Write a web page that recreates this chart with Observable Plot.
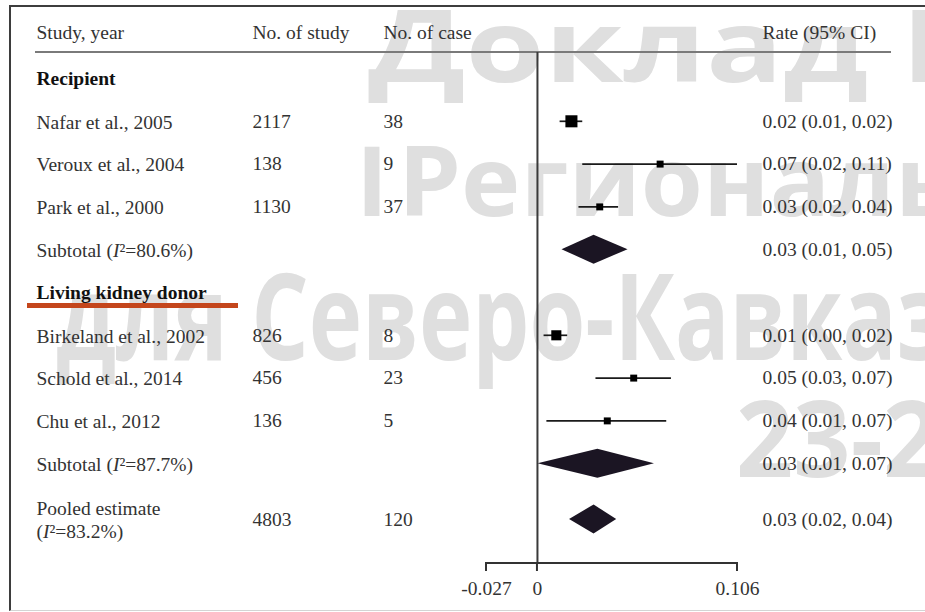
<!DOCTYPE html>
<html>
<head>
<meta charset="utf-8">
<script src="https://cdn.jsdelivr.net/npm/d3@7"></script>
<script src="https://cdn.jsdelivr.net/npm/@observablehq/plot@0.6"></script>
<style>
html, body { margin: 0; padding: 0; background: #fff; }
#wrap { position: relative; width: 925px; height: 612px; overflow: hidden; background: #fff; }
#wm, #chart { position: absolute; left: 0; top: 0; }
#border { position: absolute; left: 9px; top: 5px; width: 916px; height: 606px; box-sizing: border-box;
  border-left: 2px solid #3d3d3d; border-top: 2px solid #3d3d3d; border-bottom: 1px solid #d4d4d4; pointer-events: none; }
</style>
</head>
<body>
<div id="wrap">
  <svg id="wm" width="925" height="612"></svg>
  <div id="chart"></div>
  <div id="border"></div>
</div>
<script>
// ---------------- data ----------------
const headers = ["Study, year", "No. of study", "No. of case", "Rate (95% CI)"];
const rowLabels = [
  "Recipient",
  "Nafar et al., 2005",
  "Veroux et al., 2004",
  "Park et al., 2000",
  "Subtotal (I²=80.6%)",
  "Living kidney donor",
  "Birkeland et al., 2002",
  "Schold et al., 2014",
  "Chu et al., 2012",
  "Subtotal (I²=87.7%)",
  "Pooled estimate\n(I²=83.2%)"
];
const rowKinds = ["group", "study", "study", "study", "subtotal", "group", "study", "study", "study", "subtotal", "pooled"];
const nStudy = [null, 2117, 138, 1130, null, null, 826, 456, 136, null, 4803];
const nCase  = [null, 38, 9, 37, null, null, 8, 23, 5, null, 120];
const rateEst = [null, 0.018, 0.065, 0.033, 0.030, null, 0.010, 0.051, 0.037, 0.032, 0.030];
const rateLo  = [null, 0.012, 0.024, 0.022, 0.013, null, 0.0035, 0.031, 0.005, 0.0003, 0.017];
const rateHi  = [null, 0.024, 0.106, 0.043, 0.048, null, 0.016, 0.071, 0.0685, 0.062, 0.042];
const rateText = [null, "0.02 (0.01, 0.02)", "0.07 (0.02, 0.11)", "0.03 (0.02, 0.04)", "0.03 (0.01, 0.05)", null,
  "0.01 (0.00, 0.02)", "0.05 (0.03, 0.07)", "0.04 (0.01, 0.07)", "0.03 (0.01, 0.07)", "0.03 (0.02, 0.04)"];
const weights = [null, 30, 10, 10, null, null, 21, 10, 10, null, null];
const xTicks = [-0.027, 0, 0.106];
const watermarkText = ["Доклад I", "I", "Региональный", "для Северо-Кавказского", "23-24"];

// ---------------- layout ----------------
const W = 925, H = 612;
const M = {top: 52, right: 34, bottom: 49, left: 36};
const xRange = [486, 737];
const yRange = [78, 506];
const colDx = [0, 216, 347, 726];
const pooledShift = 13;
const ink = "#333";
const diamondFill = "#1b1523";

const rows = rowLabels.map((label, i) => ({
  label, kind: rowKinds[i], n: nStudy[i], cases: nCase[i],
  est: rateEst[i], lo: rateLo[i], hi: rateHi[i], rate: rateText[i], w: weights[i]
}));
const studies = rows.filter(d => d.kind === "study");

// ---------------- watermark (background) ----------------
(function () {
  const svg = d3.select("#wm");
  const specs = [
    {i: 0, prefix: "Доклад", x: 368, base: 82, size: 100, target: 500},
    {i: 1, prefix: "I", x: 356, base: 216, size: 97, target: null},
    {i: 2, prefix: "Регионал", x: 398, base: 216, size: 97, target: 497},
    {i: 3, prefix: "для Северо-Кавка", x: 56, base: 360, size: 120, target: 841},
    {i: 4, prefix: "23-", x: 736, base: 477, size: 105, target: 147}
  ];
  for (const s of specs) {
    const t = svg.append("text")
      .attr("font-family", "'Open Sans', 'DejaVu Sans', sans-serif")
      .attr("font-weight", 700)
      .attr("font-size", s.size)
      .attr("fill", "#dfdfdf")
      .text(s.prefix);
    let sx = 1;
    if (s.target) {
      const len = t.node().getComputedTextLength();
      if (len > 0) sx = s.target / len;
    }
    t.text(watermarkText[s.i]).attr("transform", `translate(${s.x},${s.base}) scale(${sx},1)`);
  }
})();

// ---------------- custom render helpers (use Plot's scales) ----------------
function headerRule(index, scales, values, dims) {
  return d3.create("svg:line")
    .attr("x1", dims.marginLeft - 1).attr("x2", dims.width - dims.marginRight)
    .attr("y1", dims.marginTop).attr("y2", dims.marginTop)
    .attr("stroke", "#7a7a7a").attr("stroke-width", 2).node();
}
function axisLine(index, scales, values, dims) {
  const yb = dims.height - dims.marginBottom;
  const g = d3.create("svg:g").attr("stroke", "#333").attr("stroke-width", 2).attr("fill", "none");
  g.append("line").attr("x1", scales.x(xTicks[0])).attr("x2", scales.x(xTicks[xTicks.length - 1]))
    .attr("y1", yb).attr("y2", yb);
  for (const t of xTicks) {
    g.append("line").attr("x1", scales.x(t)).attr("x2", scales.x(t)).attr("y1", yb - 1).attr("y2", yb + 8);
  }
  return g.node();
}
function diamonds(index, scales, values, dims) {
  const g = d3.create("svg:g").attr("fill", diamondFill);
  for (const d of rows.filter(r => r.kind === "subtotal" || r.kind === "pooled")) {
    const cy = scales.y(d.label) + (d.kind === "pooled" ? pooledShift : 0);
    const h = 14.5;
    g.append("path").attr("d",
      `M${scales.x(d.lo)},${cy}L${scales.x(d.est)},${cy - h}L${scales.x(d.hi)},${cy}L${scales.x(d.est)},${cy + h}Z`);
  }
  return g.node();
}
function underline(index, scales, values, dims) {
  const y = scales.y("Living kidney donor") + 13.5;
  return d3.create("svg:line")
    .attr("x1", dims.marginLeft - 9).attr("x2", dims.marginLeft + 202)
    .attr("y1", y).attr("y2", y)
    .attr("stroke", "#c4461c").attr("stroke-width", 5).node();
}

function columnMarks(data, dy) {
  const base = {y: "label", frameAnchor: "left", textAnchor: "start", lineAnchor: "middle", dy};
  return [
    Plot.text(data.filter(d => d.kind === "group"), {...base, text: "label", fontWeight: "bold", fill: "#111"}),
    Plot.text(data.filter(d => d.kind !== "group"), {...base, text: "label", lineHeight: 1.18}),
    Plot.text(data.filter(d => d.n != null), {...base, text: d => String(d.n), dx: colDx[1]}),
    Plot.text(data.filter(d => d.cases != null), {...base, text: d => String(d.cases), dx: colDx[2]}),
    Plot.text(data.filter(d => d.rate != null), {...base, text: "rate", dx: colDx[3]})
  ];
}

const chart = Plot.plot({
  width: W, height: H,
  marginTop: M.top, marginRight: M.right, marginBottom: M.bottom, marginLeft: M.left,
  x: {domain: [xTicks[0], xTicks[xTicks.length - 1]], range: xRange, axis: null},
  y: {type: "point", domain: rowLabels, range: yRange, padding: 0, round: false, axis: null},
  r: {domain: [0, 30], range: [0, 6.8]},
  style: {
    fontFamily: "'Liberation Serif', 'Times New Roman', serif",
    fontSize: "19.5px", color: ink, background: "transparent", overflow: "visible"
  },
  marks: [
    headerRule,
    ...headers.map((h, i) => Plot.text([h], {
      text: d => d, frameAnchor: "top-left", textAnchor: "start", lineAnchor: "middle", dx: colDx[i], dy: -20
    })),
    Plot.ruleX([0], {stroke: "#3a3a3a", strokeWidth: 2}),
    axisLine,
    Plot.text(xTicks, {x: d => d, text: d => String(d), frameAnchor: "bottom", lineAnchor: "middle", dy: 25}),
    ...columnMarks(rows.filter(d => d.kind !== "pooled"), 0),
    ...columnMarks(rows.filter(d => d.kind === "pooled"), pooledShift),
    Plot.ruleY(studies, {y: "label", x1: "lo", x2: "hi", stroke: "#1a1a1a", strokeWidth: 1.7}),
    Plot.dot(studies, {x: "est", y: "label", r: "w", symbol: "square", fill: "#000", stroke: "none"}),
    diamonds,
    underline
  ]
});

// italic "I" in I² labels
const NS = "http://www.w3.org/2000/svg";
Array.from(chart.querySelectorAll("text, tspan")).forEach(el => {
  if (el.children.length === 0 && el.textContent.includes("I²")) {
    const parts = el.textContent.split("I²");
    el.textContent = "";
    parts.forEach((p, k) => {
      if (k > 0) {
        const it = document.createElementNS(NS, "tspan");
        it.setAttribute("font-style", "italic");
        it.textContent = "I";
        el.appendChild(it);
        el.appendChild(document.createTextNode("²" + p));
      } else {
        el.appendChild(document.createTextNode(p));
      }
    });
  }
});

document.getElementById("chart").appendChild(chart);
</script>
</body>
</html>
